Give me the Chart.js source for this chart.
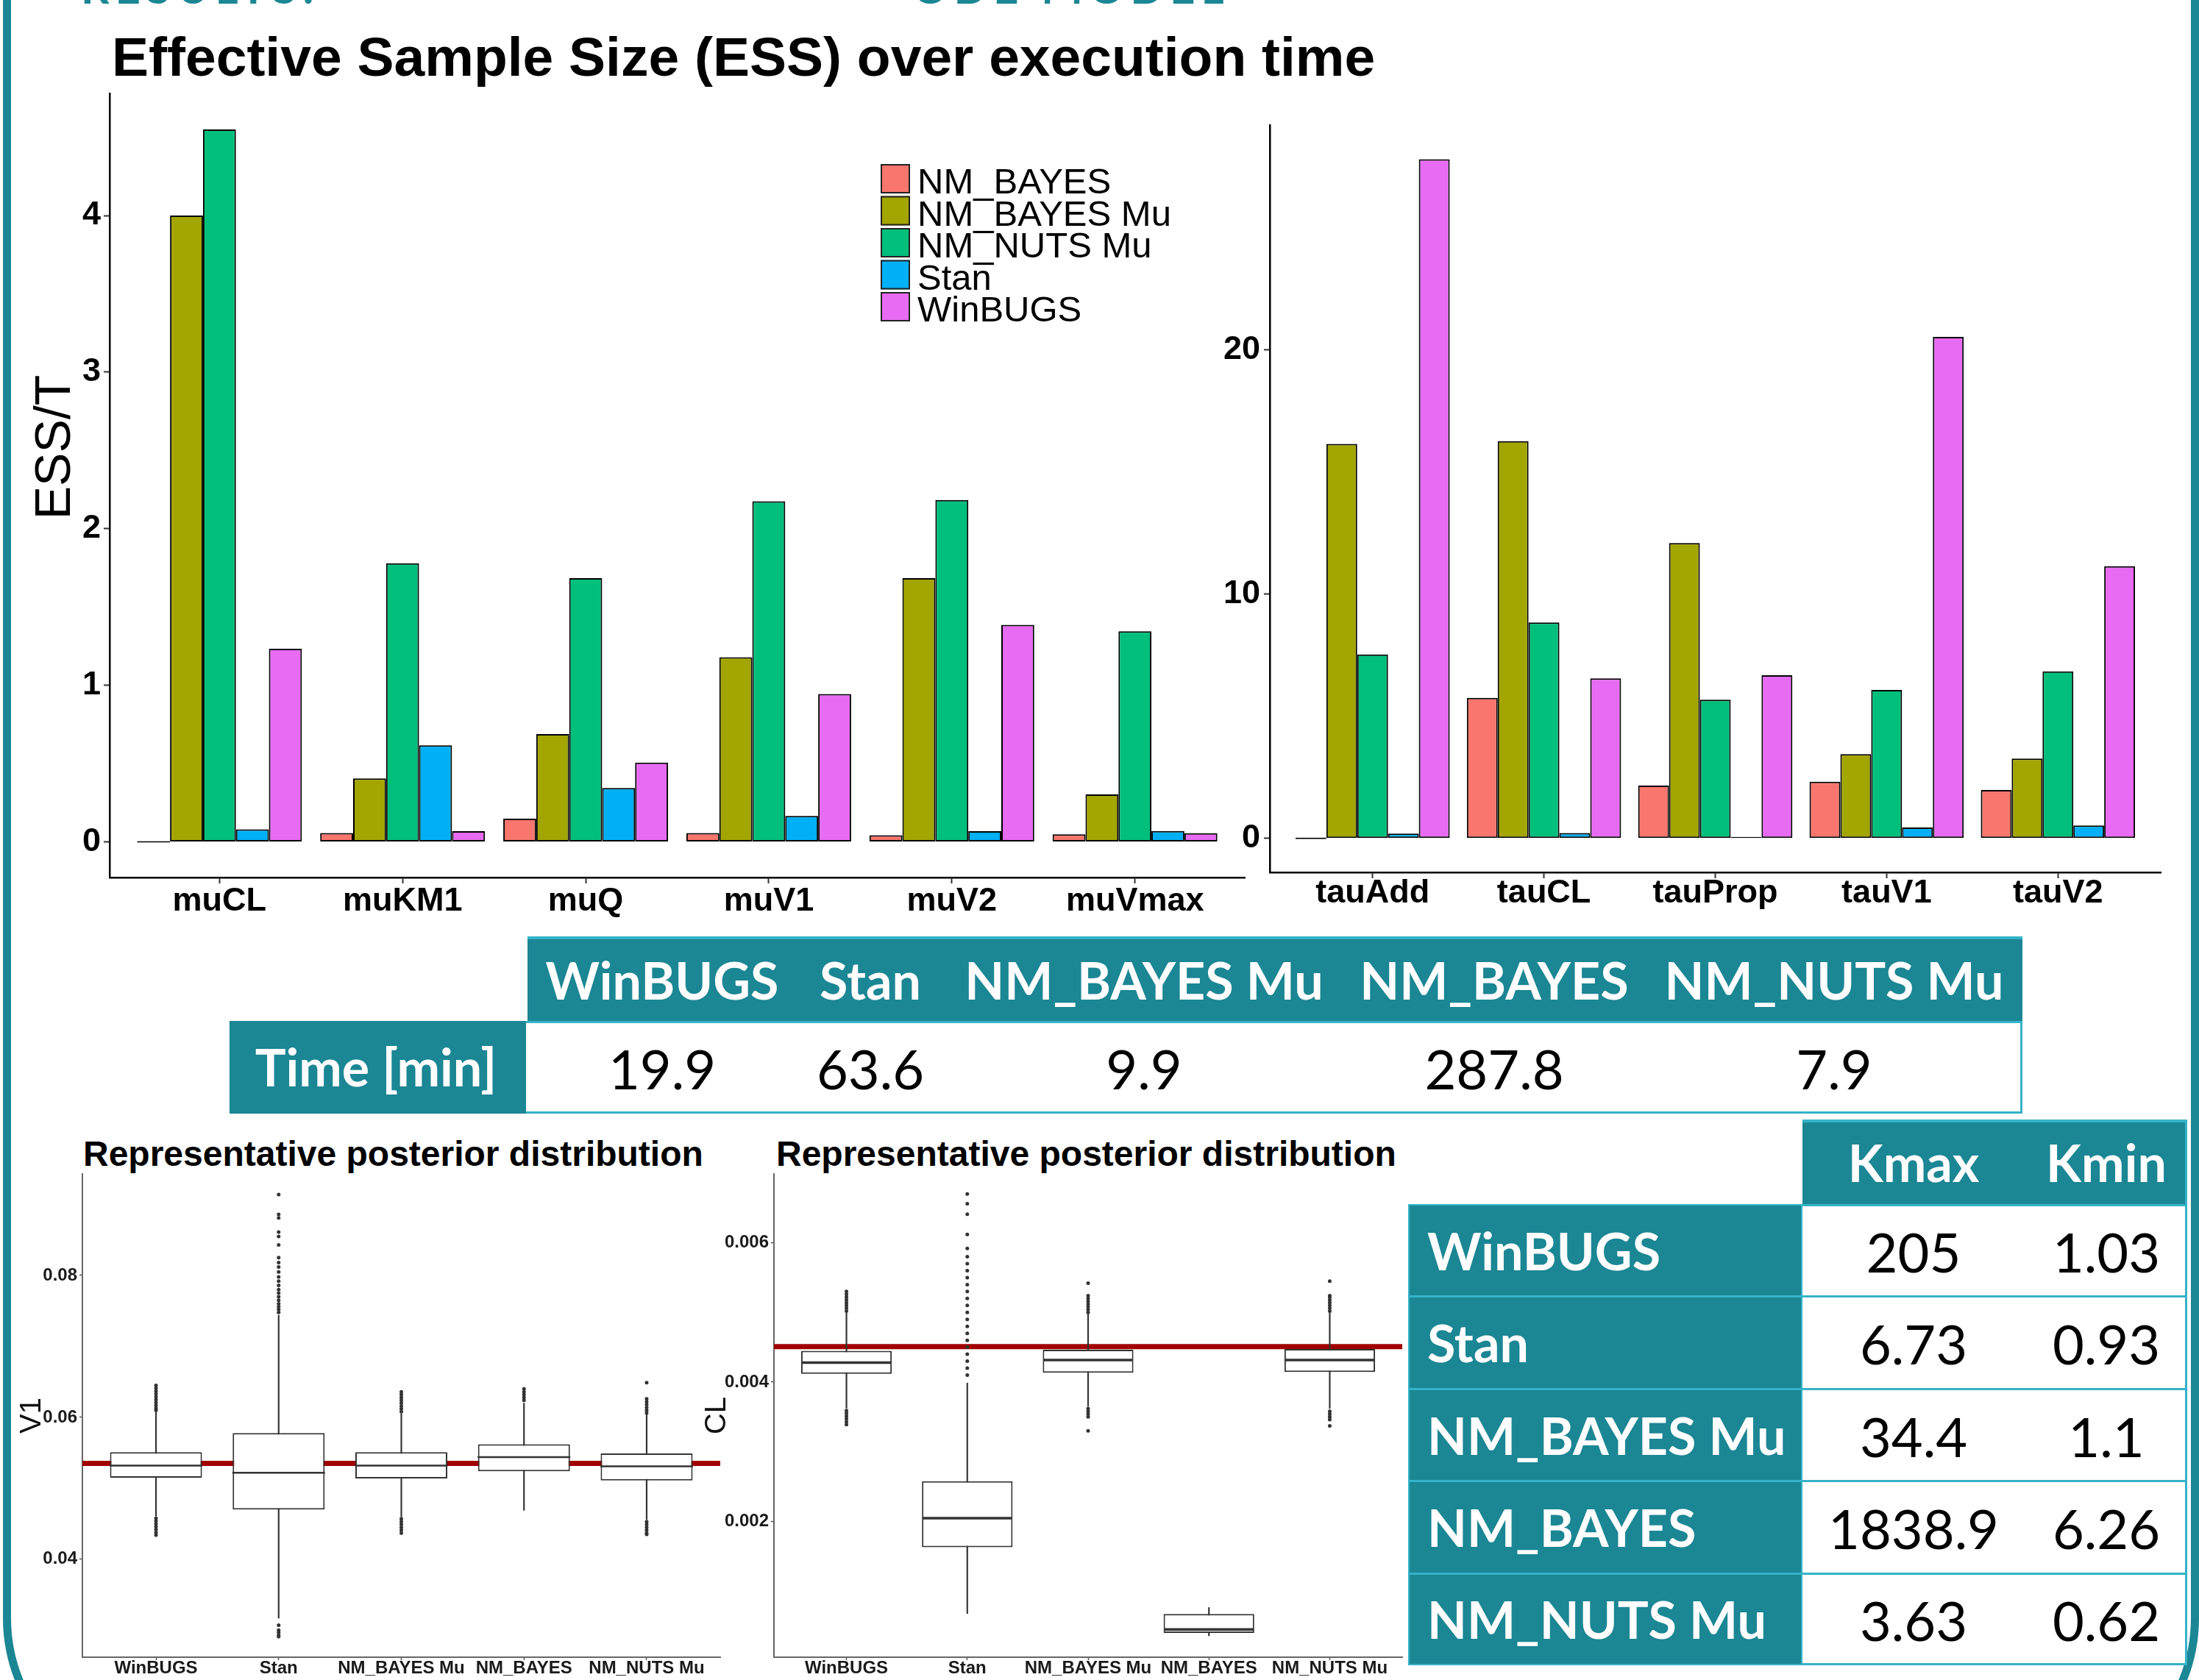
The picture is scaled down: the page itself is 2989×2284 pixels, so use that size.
<!DOCTYPE html>
<html>
<head>
<meta charset="utf-8">
<script src="https://cdn.jsdelivr.net/npm/chart.js@4.4.1/dist/chart.umd.min.js"></script>
<style>
html, body { margin: 0; padding: 0; background: #fff; }
body { width: 2989px; height: 2284px; position: relative; overflow: hidden; font-family: "Liberation Sans", Arial, sans-serif; }
canvas { position: absolute; }
.frame { position: absolute; left: 4px; top: -300px; width: 2985px; height: 2730px; box-sizing: border-box; border: 11px solid #1b8694; border-radius: 230px; }
.cut { position: absolute; top: -48px; color: #1b8694; font: bold 60px Lato; line-height: 60px; letter-spacing: 8px; white-space: nowrap; }
.title { position: absolute; font-weight: bold; white-space: nowrap; color: #000; }
</style>
</head>
<body>
<div class="frame"></div>
<div class="cut" style="left:110px">RESULTS:</div>
<div class="cut" style="left:1240px">ODE MODEL</div>
<div class="title" style="left:152px;top:40px;font-size:75px;line-height:75px">Effective Sample Size (ESS) over execution time</div>
<div style="position:absolute;left:72px;top:608px;font-size:68px;line-height:1.2;white-space:nowrap;transform:translate(-50%,-50%) rotate(-90deg)">ESS/T</div>
<div class="title" style="left:113px;top:1545px;font-size:48px;line-height:48px">Representative posterior distribution</div>
<div class="title" style="left:1055px;top:1545px;font-size:48px;line-height:48px">Representative posterior distribution</div>

<canvas id="essMu" width="1690" height="1160" style="left:20px;top:110px"></canvas>
<canvas id="essTau" width="1330" height="1120" style="left:1630px;top:150px"></canvas>
<canvas id="boxV1" width="985" height="694" style="left:15px;top:1590px"></canvas>
<canvas id="boxCL" width="990" height="694" style="left:940px;top:1590px"></canvas>

<script>
const methods = ['NM_BAYES', 'NM_BAYES Mu', 'NM_NUTS Mu', 'Stan', 'WinBUGS'];
const methodColors = ['#F8766D', '#A3A500', '#00BF7D', '#00B0F6', '#E76BF3'];

const muParams = ['muCL', 'muKM1', 'muQ', 'muV1', 'muV2', 'muVmax'];
const muNmBayes = [0, 0.057, 0.148, 0.057, 0.043, 0.048];
const muNmBayesMu = [4.0, 0.405, 0.689, 1.179, 1.684, 0.303];
const muNmNutsMu = [4.55, 1.78, 1.684, 2.175, 2.184, 1.345];
const muStan = [0.08, 0.617, 0.344, 0.166, 0.068, 0.07];
const muWinbugs = [1.233, 0.068, 0.507, 0.944, 1.386, 0.055];
const muTicks = [0, 1, 2, 3, 4];

const tauParams = ['tauAdd', 'tauCL', 'tauProp', 'tauV1', 'tauV2'];
const tauNmBayes = [0, 5.75, 2.16, 2.32, 1.98];
const tauNmBayesMu = [16.15, 16.26, 12.09, 3.45, 3.27];
const tauNmNutsMu = [7.53, 8.84, 5.68, 6.08, 6.84];
const tauStan = [0.2, 0.22, 0.04, 0.45, 0.53];
const tauWinbugs = [27.8, 6.55, 6.68, 20.53, 11.14];
const tauTicks = [0, 10, 20];

const boxGroups = ['WinBUGS', 'Stan', 'NM_BAYES Mu', 'NM_BAYES', 'NM_NUTS Mu'];

const v1Q1 = [0.0515, 0.0470, 0.0514, 0.0524, 0.0511];
const v1Median = [0.0532, 0.0522, 0.0532, 0.0544, 0.0531];
const v1Q3 = [0.0551, 0.0578, 0.0551, 0.0562, 0.0549];
const v1Low = [0.0461, 0.0317, 0.0460, 0.0469, 0.0456];
const v1High = [0.0608, 0.0744, 0.0605, 0.0620, 0.0605];
const v1Outliers = [
  [0.0610, 0.0613, 0.0617, 0.0621, 0.0625, 0.0629, 0.0633, 0.0637, 0.0641, 0.0645, 0.0458, 0.0454, 0.0450, 0.0446, 0.0442, 0.0438, 0.0434],
  [0.0748, 0.0752, 0.0756, 0.0760, 0.0765, 0.0770, 0.0775, 0.0780, 0.0786, 0.0792, 0.0798, 0.0805, 0.0812, 0.0818, 0.0825, 0.0843, 0.0855, 0.0861, 0.0881, 0.0886, 0.0914, 0.0307, 0.0300, 0.0297, 0.0293, 0.0291],
  [0.0608, 0.0612, 0.0616, 0.0620, 0.0624, 0.0628, 0.0632, 0.0636, 0.0457, 0.0453, 0.0449, 0.0445, 0.0441, 0.0437],
  [0.0624, 0.0628, 0.0632, 0.0636, 0.0640],
  [0.0606, 0.0610, 0.0614, 0.0618, 0.0622, 0.0626, 0.0649, 0.0453, 0.0449, 0.0445, 0.0441, 0.0437, 0.0435]
];
const v1Reference = 0.0535;
const v1Ticks = [0.04, 0.06, 0.08];

const clQ1 = [0.004118, 0.001627, 0.004134, 0.000396, 0.004145];
const clMedian = [0.004279, 0.002044, 0.004315, 0.000448, 0.004315];
const clQ3 = [0.004448, 0.002575, 0.004464, 0.000669, 0.004475];
const clLow = [0.003625, 0.000674, 0.003650, 0.000355, 0.003620];
const clHigh = [0.004989, 0.003985, 0.004989, 0.000762, 0.004990];
const clOutliers = [
  [0.00502, 0.00506, 0.0051, 0.00514, 0.00518, 0.00522, 0.00526, 0.0053, 0.00359, 0.00355, 0.00351, 0.00347, 0.00343, 0.00339],
  [0.0041, 0.0042, 0.0043, 0.0044, 0.0045, 0.0046, 0.0047, 0.0048, 0.0049, 0.0050, 0.0051, 0.0052, 0.0053, 0.0054, 0.0055, 0.0056, 0.0057, 0.0058, 0.00592, 0.00612, 0.00641, 0.00656, 0.0067],
  [0.005, 0.00504, 0.00508, 0.00512, 0.00516, 0.0052, 0.00524, 0.00542, 0.00362, 0.00358, 0.00354, 0.0035, 0.0033],
  [],
  [0.00502, 0.00506, 0.0051, 0.00514, 0.00518, 0.00522, 0.00524, 0.00545, 0.00358, 0.00354, 0.0035, 0.00346, 0.00337]
];
const clReference = 0.00451;
const clTicks = [0.002, 0.004, 0.006];

const timeMethods = ['WinBUGS', 'Stan', 'NM_BAYES Mu', 'NM_BAYES', 'NM_NUTS Mu'];
const timeMinutes = ['19.9', '63.6', '9.9', '287.8', '7.9'];
const kMethods = ['WinBUGS', 'Stan', 'NM_BAYES Mu', 'NM_BAYES', 'NM_NUTS Mu'];
const kmaxValues = ['205', '6.73', '34.4', '1838.9', '3.63'];
const kminValues = ['1.03', '0.93', '1.1', '6.26', '0.62'];

Chart.defaults.font.family = '"Liberation Sans", Arial, sans-serif';
Chart.defaults.color = '#000';

const legendBox = {
  id: 'legendBox',
  afterDraw(chart, args, opts) {
    const {ctx} = chart;
    ctx.save();
    ctx.font = opts.fontSize + 'px "Liberation Sans"';
    chart.data.datasets.forEach((ds, i) => {
      const top = opts.top + i * opts.step;
      ctx.fillStyle = ds.backgroundColor;
      ctx.fillRect(opts.left, top, opts.size, opts.size);
      ctx.lineWidth = 2;
      ctx.strokeStyle = '#222';
      ctx.strokeRect(opts.left + 1, top + 1, opts.size - 2, opts.size - 2);
      ctx.fillStyle = '#000';
      ctx.fillText(ds.label, opts.left + opts.size + 10, top + opts.baseline);
    });
    ctx.restore();
  }
};

const fixTicks = values => axis => { axis.ticks = values.map(v => ({value: v})); };
const fitX = h => s => { s.height = h; s.paddingLeft = 0; s.paddingRight = 0; };
const fitY = w => s => { s.width = w; s.paddingTop = 0; s.paddingBottom = 0; };

const essChart = (id, params, series, yMin, yMax, yTicks, geom, legend) => {
  const datasets = series.map((vals, k) => ({
    label: methods[k],
    data: vals.map((v, i) => ({x: i + 1, y: v})),
    backgroundColor: methodColors[k],
    borderColor: '#000',
    borderWidth: 2,
    borderSkipped: false,
    minBarLength: 2,
    categoryPercentage: 0.9,
    barPercentage: 1
  }));
  return new Chart(document.getElementById(id), {
    type: 'bar',
    data: {datasets},
    options: {
      responsive: false,
      animation: false,
      devicePixelRatio: 1,
      layout: {padding: geom.pad, autoPadding: false},
      plugins: {legend: {display: false}, tooltip: {enabled: false}, legendBox: legend || {}},
      scales: {
        x: {
          type: 'linear', min: 0.4, max: params.length + 0.6, offset: false,
          afterBuildTicks: fixTicks(params.map((_, i) => i + 1)),
          afterFit: fitX(geom.xh),
          ticks: {callback: v => params[v - 1], font: {size: 45, weight: 'bold', lineHeight: 1}, padding: geom.xpad, maxRotation: 0, autoSkip: false},
          grid: {drawOnChartArea: false, offset: false, color: '#333', tickLength: 8, tickWidth: 2},
          border: {color: '#000', width: 2.5}
        },
        y: {
          min: yMin, max: yMax, beginAtZero: false,
          afterBuildTicks: fixTicks(yTicks),
          afterFit: fitY(geom.yw),
          ticks: {callback: v => String(v), font: {size: 45, weight: 'bold'}, padding: geom.ypad},
          grid: {drawOnChartArea: false, color: '#333', tickLength: 8, tickWidth: 2},
          border: {color: '#000', width: 2.5}
        }
      }
    },
    plugins: legend ? [legendBox] : []
  });
};

essChart('essMu', muParams, [muNmBayes, muNmBayesMu, muNmNutsMu, muStan, muWinbugs], -0.2275, 4.78, muTicks,
  {pad: {top: 17, right: 18, left: 0, bottom: 0}, xh: 77, yw: 129, xpad: 2, ypad: 4},
  {left: 1177, top: 113, step: 43.5, size: 40, baseline: 40, fontSize: 49});
essChart('essTau', tauParams, [tauNmBayes, tauNmBayesMu, tauNmNutsMu, tauStan, tauWinbugs], -1.39, 29.2, tauTicks,
  {pad: {top: 20, right: 23, left: 0, bottom: 0}, xh: 84, yw: 96, xpad: -2, ypad: 5});

const boxChart = (id, stats, outliers, ref, yMin, yMax, yTicks, digits, yTitle, geom) => {
  const [q1, med, q3, low, high] = stats;
  const xs = boxGroups.map((_, i) => i + 1);
  return new Chart(document.getElementById(id), {
    type: 'bar',
    data: {
      datasets: [
        {type: 'line', data: [{x: 0.4, y: ref}, {x: boxGroups.length + 0.6, y: ref}], borderColor: '#a10000', borderWidth: 7, pointRadius: 0, order: 4},
        {data: xs.map((x, i) => ({x, y: [low[i], high[i]]})), backgroundColor: '#333', barThickness: 1.5, grouped: false, order: 3},
        {data: xs.map((x, i) => ({x, y: [q1[i], q3[i]]})), backgroundColor: '#fff', borderColor: '#333', borderWidth: 2, borderSkipped: false, categoryPercentage: 0.75, barPercentage: 1, grouped: false, order: 2},
        {type: 'line', data: xs.map((x, i) => ({x, y: med[i]})), showLine: false, pointStyle: 'line', pointRadius: geom.median, pointBorderWidth: geom.medianWidth, pointBorderColor: '#333', order: 1},
        {type: 'line', data: outliers.flatMap((vals, i) => vals.map(y => ({x: i + 1, y}))), showLine: false, pointRadius: 2.5, pointBackgroundColor: '#333', pointBorderWidth: 0, order: 0}
      ]
    },
    options: {
      responsive: false,
      animation: false,
      devicePixelRatio: 1,
      layout: {padding: geom.pad, autoPadding: false},
      plugins: {legend: {display: false}, tooltip: {enabled: false}},
      scales: {
        x: {
          type: 'linear', min: 0.4, max: boxGroups.length + 0.6, offset: false,
          afterBuildTicks: fixTicks(xs),
          afterFit: fitX(geom.xh),
          ticks: {callback: v => boxGroups[v - 1], font: {size: 24, weight: 'bold', lineHeight: 1}, color: '#1a1a1a', padding: -1, maxRotation: 0, autoSkip: false},
          grid: {drawOnChartArea: false, offset: false, color: '#555', tickLength: 4, tickWidth: 1.5},
          border: {color: '#666', width: 2}
        },
        y: {
          min: yMin, max: yMax, beginAtZero: false,
          afterBuildTicks: fixTicks(yTicks),
          afterFit: fitY(geom.yw),
          ticks: {callback: v => v.toFixed(digits), font: {size: 24, weight: 'bold'}, color: '#1a1a1a', padding: 3},
          grid: {drawOnChartArea: false, color: '#555', tickLength: 4, tickWidth: 1.5},
          border: {color: '#666', width: 2},
          title: {display: true, text: yTitle, font: {size: 40}, color: '#111', padding: {top: geom.titlePad, bottom: 0}}
        }
      }
    }
  });
};

boxChart('boxV1', [v1Q1, v1Median, v1Q3, v1Low, v1High], v1Outliers, v1Reference, 0.0262, 0.0943, v1Ticks, 2, 'V1',
  {pad: {top: 6, right: 21, left: 0, bottom: 0}, xh: 31, yw: 97, median: 63, medianWidth: 2.5, titlePad: 5});
boxChart('boxCL', [clQ1, clMedian, clQ3, clLow, clHigh], clOutliers, clReference, 0.000048, 0.006989, clTicks, 3, 'CL',
  {pad: {top: 6, right: 24, left: 0, bottom: 0}, xh: 31, yw: 112, median: 61, medianWidth: 3.5, titlePad: 11});

// tables
const teal = '#1b8694';
const cyan = '#35b3c8';
const box = (x, y, w, h, css) => {
  const d = document.createElement('div');
  d.style.cssText = `position:absolute;left:${x}px;top:${y}px;width:${w}px;height:${h}px;box-sizing:border-box;${css}`;
  document.body.appendChild(d);
};
const text = (t, x, y, css, left) => {
  const d = document.createElement('div');
  d.textContent = t;
  d.style.cssText = `position:absolute;left:${x}px;top:${y}px;transform:translate(${left ? '0' : '-50%'},-50%);white-space:nowrap;font-family:Lato;line-height:1.2;${css}`;
  document.body.appendChild(d);
};
const headCss = 'color:#fff;font-weight:bold;font-size:70px';
const valCss = 'color:#000;font-size:74px';

const timeCols = [900, 1183, 1555, 2031, 2493];
box(717, 1273, 2032, 115, `background:${teal};border-top:4px solid ${cyan}`);
box(312, 1388, 403, 126, `background:${teal}`);
box(715, 1388, 2034, 126, `background:#fff;border:3px solid ${cyan};border-left:none`);
timeMethods.forEach((m, i) => text(m, timeCols[i], 1332, headCss));
timeMinutes.forEach((v, i) => text(v, timeCols[i], 1453, valCss));
text('Time [min]', 511, 1450, headCss);

const kRowTop = 1637;
const kRowH = 125.4;
box(2450, 1522, 523, 115, `background:${teal};border-top:4px solid ${cyan};border-right:3px solid ${cyan}`);
box(1914, kRowTop, 536, 627, `background:${teal};border:2px solid ${cyan}`);
box(2450, kRowTop, 523, 627, `background:#fff;border:3px solid ${cyan};border-left:none`);
[1, 2, 3, 4].forEach(r => box(1914, kRowTop + r * kRowH - 1, 1059, 3, `background:${cyan}`));
text('Kmax', 2601, 1580, headCss);
text('Kmin', 2863, 1580, headCss);
kMethods.forEach((m, i) => {
  const cy = kRowTop + (i + 0.5) * kRowH;
  text(m, 1940, cy, headCss, true);
  text(kmaxValues[i], 2601, cy + 2, valCss);
  text(kminValues[i], 2863, cy + 2, valCss);
});
</script>
</body>
</html>
